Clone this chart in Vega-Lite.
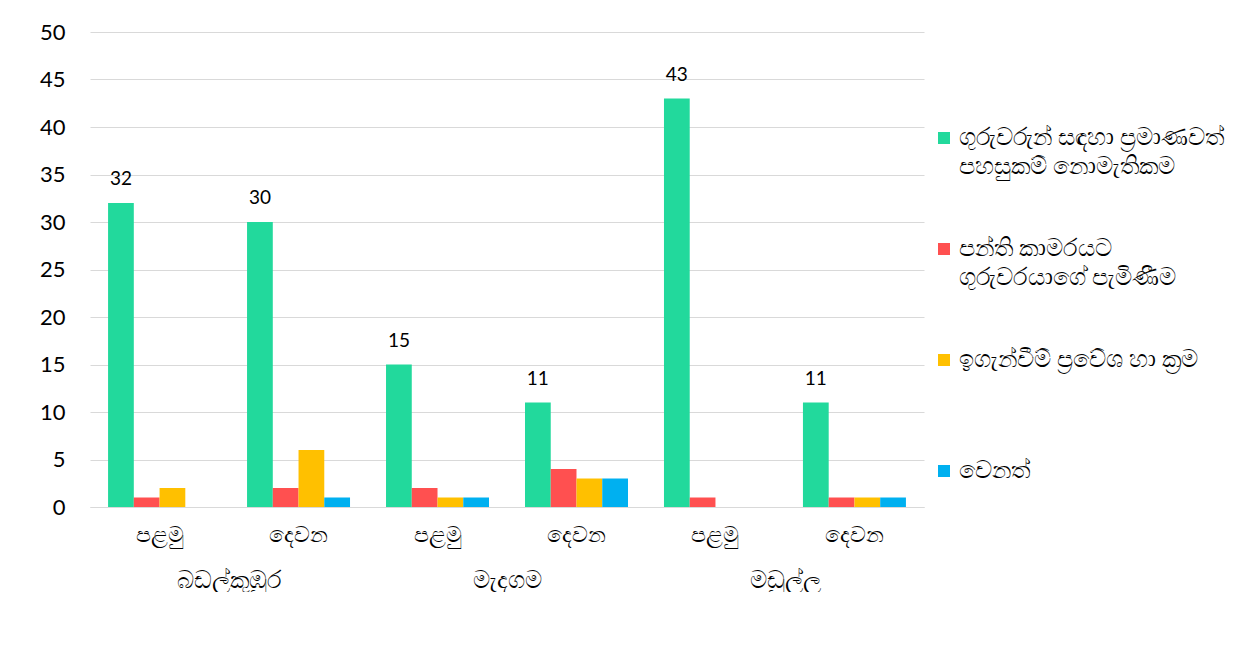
{
  "$schema": "https://vega.github.io/schema/vega-lite/v6.json",
  "width": 834,
  "height": 475,
  "autosize": {"type": "pad"},
  "padding": {"left": 39, "top": 21, "right": 0, "bottom": 0},
  "background": "white",
  "config": {"view": {"stroke": null}, "font": "Lato"},
  "data": {
    "values": [
      {"region": "බඩල්කුඹුර", "cat": "බඩල්කුඹුර|පළමු", "series": "ගුරුවරුන් සඳහා ප්‍රමාණවත් පහසුකම් නොමැතිකම", "value": 32},
      {"region": "බඩල්කුඹුර", "cat": "බඩල්කුඹුර|පළමු", "series": "පන්ති කාමරයට ගුරුවරයාගේ පැමිණීම", "value": 1},
      {"region": "බඩල්කුඹුර", "cat": "බඩල්කුඹුර|පළමු", "series": "ඉගැන්වීම් ප්‍රවේශ හා ක්‍රම", "value": 2},
      {"region": "බඩල්කුඹුර", "cat": "බඩල්කුඹුර|පළමු", "series": "වෙනත්", "value": 0},
      {"region": "බඩල්කුඹුර", "cat": "බඩල්කුඹුර|දෙවන", "series": "ගුරුවරුන් සඳහා ප්‍රමාණවත් පහසුකම් නොමැතිකම", "value": 30},
      {"region": "බඩල්කුඹුර", "cat": "බඩල්කුඹුර|දෙවන", "series": "පන්ති කාමරයට ගුරුවරයාගේ පැමිණීම", "value": 2},
      {"region": "බඩල්කුඹුර", "cat": "බඩල්කුඹුර|දෙවන", "series": "ඉගැන්වීම් ප්‍රවේශ හා ක්‍රම", "value": 6},
      {"region": "බඩල්කුඹුර", "cat": "බඩල්කුඹුර|දෙවන", "series": "වෙනත්", "value": 1},
      {"region": "මැදගම", "cat": "මැදගම|පළමු", "series": "ගුරුවරුන් සඳහා ප්‍රමාණවත් පහසුකම් නොමැතිකම", "value": 15},
      {"region": "මැදගම", "cat": "මැදගම|පළමු", "series": "පන්ති කාමරයට ගුරුවරයාගේ පැමිණීම", "value": 2},
      {"region": "මැදගම", "cat": "මැදගම|පළමු", "series": "ඉගැන්වීම් ප්‍රවේශ හා ක්‍රම", "value": 1},
      {"region": "මැදගම", "cat": "මැදගම|පළමු", "series": "වෙනත්", "value": 1},
      {"region": "මැදගම", "cat": "මැදගම|දෙවන", "series": "ගුරුවරුන් සඳහා ප්‍රමාණවත් පහසුකම් නොමැතිකම", "value": 11},
      {"region": "මැදගම", "cat": "මැදගම|දෙවන", "series": "පන්ති කාමරයට ගුරුවරයාගේ පැමිණීම", "value": 4},
      {"region": "මැදගම", "cat": "මැදගම|දෙවන", "series": "ඉගැන්වීම් ප්‍රවේශ හා ක්‍රම", "value": 3},
      {"region": "මැදගම", "cat": "මැදගම|දෙවන", "series": "වෙනත්", "value": 3},
      {"region": "මඩුල්ල", "cat": "මඩුල්ල|පළමු", "series": "ගුරුවරුන් සඳහා ප්‍රමාණවත් පහසුකම් නොමැතිකම", "value": 43},
      {"region": "මඩුල්ල", "cat": "මඩුල්ල|පළමු", "series": "පන්ති කාමරයට ගුරුවරයාගේ පැමිණීම", "value": 1},
      {"region": "මඩුල්ල", "cat": "මඩුල්ල|පළමු", "series": "ඉගැන්වීම් ප්‍රවේශ හා ක්‍රම", "value": 0},
      {"region": "මඩුල්ල", "cat": "මඩුල්ල|පළමු", "series": "වෙනත්", "value": 0},
      {"region": "මඩුල්ල", "cat": "මඩුල්ල|දෙවන", "series": "ගුරුවරුන් සඳහා ප්‍රමාණවත් පහසුකම් නොමැතිකම", "value": 11},
      {"region": "මඩුල්ල", "cat": "මඩුල්ල|දෙවන", "series": "පන්ති කාමරයට ගුරුවරයාගේ පැමිණීම", "value": 1},
      {"region": "මඩුල්ල", "cat": "මඩුල්ල|දෙවන", "series": "ඉගැන්වීම් ප්‍රවේශ හා ක්‍රම", "value": 1},
      {"region": "මඩුල්ල", "cat": "මඩුල්ල|දෙවන", "series": "වෙනත්", "value": 1}
    ]
  },
  "layer": [
    {
      "layer": [
        {
          "mark": {"type": "bar"},
          "encoding": {
            "x": {
              "field": "cat", "type": "nominal",
              "sort": ["බඩල්කුඹුර|පළමු", "බඩල්කුඹුර|දෙවන", "මැදගම|පළමු", "මැදගම|දෙවන", "මඩුල්ල|පළමු", "මඩුල්ල|දෙවන"],
              "scale": {"paddingInner": 0.259, "paddingOuter": 0.13},
              "axis": {
                "title": null, "labelAngle": 0, "ticks": false, "grid": false,
                "domain": true, "domainColor": "#d9d9d9", "domainWidth": 1,
                "labelExpr": "split(datum.label, '|')[1]",
                "labelFontSize": 22, "labelColor": "#000000", "labelPadding": 17
              }
            },
            "xOffset": {
              "field": "series", "type": "nominal",
              "sort": ["ගුරුවරුන් සඳහා ප්‍රමාණවත් පහසුකම් නොමැතිකම", "පන්ති කාමරයට ගුරුවරයාගේ පැමිණීම", "ඉගැන්වීම් ප්‍රවේශ හා ක්‍රම", "වෙනත්"],
              "scale": {"paddingInner": 0, "paddingOuter": 0}
            },
            "y": {
              "field": "value", "type": "quantitative",
              "scale": {"domain": [0, 50], "nice": false},
              "axis": {
                "title": null, "values": [0, 5, 10, 15, 20, 25, 30, 35, 40, 45, 50],
                "grid": true, "gridColor": "#d9d9d9", "gridWidth": 1,
                "domain": false, "ticks": false,
                "labelFontSize": 22, "labelColor": "#000000", "labelPadding": 25
              }
            },
            "color": {
              "field": "series", "type": "nominal",
              "sort": ["ගුරුවරුන් සඳහා ප්‍රමාණවත් පහසුකම් නොමැතිකම", "පන්ති කාමරයට ගුරුවරයාගේ පැමිණීම", "ඉගැන්වීම් ප්‍රවේශ හා ක්‍රම", "වෙනත්"],
              "scale": {"range": ["#22d99c", "#ff5050", "#ffc000", "#00b0f0"]},
              "legend": {
                "title": null, "orient": "none", "legendX": 842, "legendY": 94,
                "symbolType": "square", "symbolSize": 144, "symbolStrokeWidth": 0,
                "labelFontSize": 24, "labelColor": "#000000", "labelOffset": 3,
                "labelLimit": 400, "rowPadding": 58,
                "labelExpr": "indexof(datum.label, 'ගුරුවරුන්') == 0 ? ['ගුරුවරුන් සඳහා ප්‍රමාණවත්', 'පහසුකම් නොමැතිකම'] : indexof(datum.label, 'පන්ති') == 0 ? ['පන්ති කාමරයට', 'ගුරුවරයාගේ පැමිණීම'] : [datum.label, '']",
                "encode": {"labels": {"update": {"lineHeight": {"value": 29}}}}
              }
            }
          }
        },
        {
          "transform": [{"filter": "indexof(datum.series, 'ගුරුවරුන්') == 0"}],
          "mark": {"type": "text", "baseline": "bottom", "dy": -14, "fontSize": 19, "color": "#000000"},
          "encoding": {
            "x": {"field": "cat", "type": "nominal", "sort": ["බඩල්කුඹුර|පළමු", "බඩල්කුඹුර|දෙවන", "මැදගම|පළමු", "මැදගම|දෙවන", "මඩුල්ල|පළමු", "මඩුල්ල|දෙවන"]},
            "xOffset": {"field": "series", "type": "nominal", "sort": ["ගුරුවරුන් සඳහා ප්‍රමාණවත් පහසුකම් නොමැතිකම", "පන්ති කාමරයට ගුරුවරයාගේ පැමිණීම", "ඉගැන්වීම් ප්‍රවේශ හා ක්‍රම", "වෙනත්"]},
            "y": {"field": "value", "type": "quantitative"},
            "text": {"field": "value", "type": "quantitative"}
          }
        }
      ]
    },
    {
      "mark": {"type": "tick", "opacity": 0},
      "encoding": {
        "x": {
          "field": "region", "type": "nominal",
          "sort": ["බඩල්කුඹුර", "මැදගම", "මඩුල්ල"],
          "scale": {"paddingInner": 0, "paddingOuter": 0},
          "axis": {
            "orient": "bottom", "offset": 61, "title": null, "labelAngle": 0,
            "ticks": false, "domain": false, "grid": false,
            "labelFontSize": 24, "labelColor": "#000000", "labelPadding": 0
          }
        }
      }
    }
  ],
  "resolve": {"scale": {"x": "independent"}, "axis": {"x": "independent"}}
}
